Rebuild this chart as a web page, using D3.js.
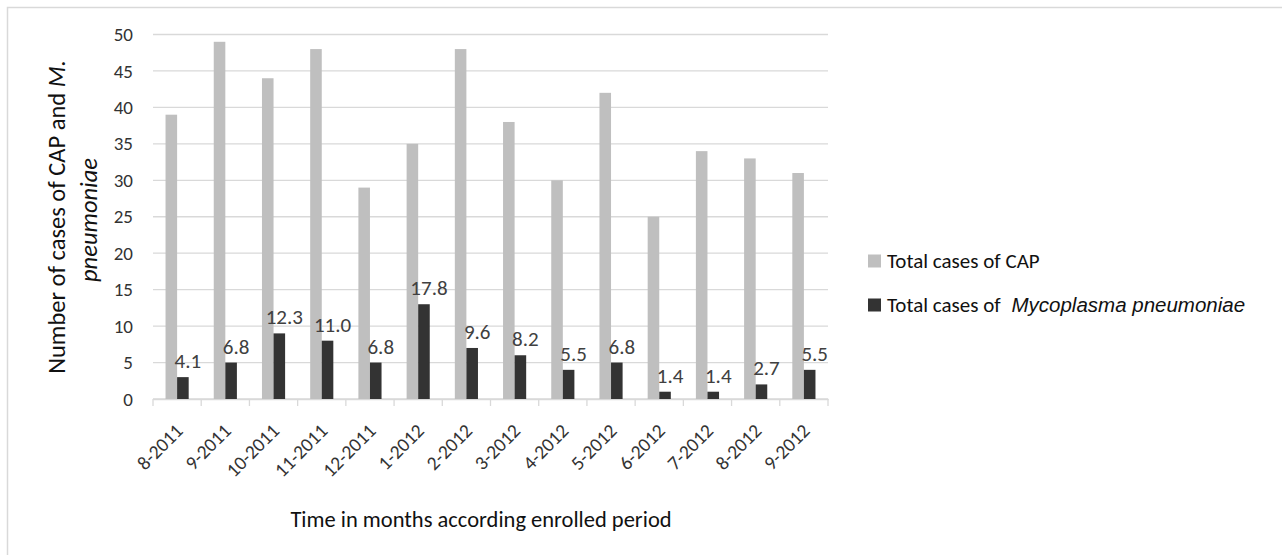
<!DOCTYPE html>
<html>
<head>
<meta charset="utf-8">
<script src="https://cdn.jsdelivr.net/npm/d3@7"></script>
<style>
  body { margin: 0; background: #fff; }
  text { font-family: Carlito, Calibri, Lato, sans-serif; }
</style>
</head>
<body>
<div id="chart"></div>
<script>
var months = ["8-2011", "9-2011", "10-2011", "11-2011", "12-2011", "1-2012", "2-2012",
  "3-2012", "4-2012", "5-2012", "6-2012", "7-2012", "8-2012", "9-2012"];
var capCases = [39, 49, 44, 48, 29, 35, 48, 38, 30, 42, 25, 34, 33, 31];
var mpCases = [3, 5, 9, 8, 5, 13, 7, 6, 4, 5, 1, 1, 2, 4];
var mpPercent = ["4.1", "6.8", "12.3", "11.0", "6.8", "17.8", "9.6", "8.2", "5.5", "6.8", "1.4", "1.4", "2.7", "5.5"];
var yTicks = [0, 5, 10, 15, 20, 25, 30, 35, 40, 45, 50];

var svgWidth = 1282;
var svgHeight = 555;

var svg = d3.select("#chart")
  .append("svg")
    .attr("width", svgWidth)
    .attr("height", svgHeight);

// frame of the chart area (only top and left edges show)
svg.append("rect")
  .attr("x", 7.5)
  .attr("y", 7.5)
  .attr("width", 1400)
  .attr("height", 700)
  .attr("fill", "none")
  .attr("stroke", "#d9d9d9")
  .attr("stroke-width", 1.5);

var x = d3.scaleBand()
  .domain(months)
  .range([153, 828]);

var y = d3.scaleLinear()
  .domain([0, 50])
  .range([399, 34.5]);

var barW = x.bandwidth() * 0.24;

// gridlines
svg.append("g")
  .selectAll("line")
  .data(yTicks)
  .enter()
  .append("line")
    .attr("x1", 153)
    .attr("x2", 828)
    .attr("y1", d => y(d))
    .attr("y2", d => y(d))
    .attr("stroke", "#d9d9d9")
    .attr("stroke-width", 1.3);

// category axis with ticks between categories
var bottomAxis = d3.axisBottom(x).tickSize(0).tickFormat("");
svg.append("g")
  .attr("transform", "translate(0, 399)")
  .call(bottomAxis)
  .call(g => g.select(".domain").attr("stroke", "#d9d9d9").attr("stroke-width", 1.3));

svg.append("g")
  .selectAll("line")
  .data(months.concat(["end"]))
  .enter()
  .append("line")
    .attr("x1", (d, i) => i < months.length ? x(d) : x(months[months.length - 1]) + x.bandwidth())
    .attr("x2", (d, i) => i < months.length ? x(d) : x(months[months.length - 1]) + x.bandwidth())
    .attr("y1", 399)
    .attr("y2", 406)
    .attr("stroke", "#d9d9d9")
    .attr("stroke-width", 1.3);

// y tick labels
var leftAxis = d3.axisLeft(y).tickValues(yTicks).tickSize(0).tickPadding(20);
svg.append("g")
  .attr("transform", "translate(153, 0)")
  .call(leftAxis)
  .call(g => g.select(".domain").remove())
  .call(g => g.selectAll("text")
    .attr("font-family", "Carlito, Calibri, Lato, sans-serif")
    .attr("font-size", "19px")
    .attr("fill", "#333"));

// bars
svg.append("g")
  .selectAll("rect")
  .data(capCases)
  .enter()
  .append("rect")
    .attr("x", (d, i) => x(months[i]) + x.bandwidth() / 2 - barW)
    .attr("y", d => y(d))
    .attr("width", barW)
    .attr("height", d => y(0) - y(d))
    .attr("fill", "#bfbfbf");

svg.append("g")
  .selectAll("rect")
  .data(mpCases)
  .enter()
  .append("rect")
    .attr("x", (d, i) => x(months[i]) + x.bandwidth() / 2)
    .attr("y", d => y(d))
    .attr("width", barW)
    .attr("height", d => y(0) - y(d))
    .attr("fill", "#333333");

// percent labels above the dark bars
svg.append("g")
  .selectAll("text")
  .data(mpCases)
  .enter()
  .append("text")
    .text((d, i) => mpPercent[i])
    .attr("x", (d, i) => x(months[i]) + x.bandwidth() / 2 + barW / 2 + 5)
    .attr("y", d => y(d) - 9)
    .attr("text-anchor", "middle")
    .attr("font-size", "21px")
    .attr("fill", "#404040");

// rotated month labels
svg.append("g")
  .selectAll("text")
  .data(months)
  .enter()
  .append("text")
    .text(d => d)
    .attr("transform", d => `translate(${x(d) + x.bandwidth() / 2 + 7}, 432) rotate(-45)`)
    .attr("text-anchor", "end")
    .attr("font-size", "19.5px")
    .attr("fill", "#333");

// axis titles
svg.append("text")
  .attr("x", 481)
  .attr("y", 527)
  .attr("text-anchor", "middle")
  .attr("font-size", "22.5px")
  .attr("fill", "#111")
  .text("Time in months according enrolled period");

var yTitle = svg.append("text")
  .attr("transform", "translate(65, 217) rotate(-90)")
  .attr("text-anchor", "middle")
  .attr("font-size", "24.5px")
  .attr("fill", "#111");
yTitle.append("tspan").text("Number of cases of CAP and ");
yTitle.append("tspan").attr("font-style", "italic").text("M.");

svg.append("text")
  .attr("transform", "translate(97, 220) rotate(-90)")
  .attr("text-anchor", "middle")
  .attr("font-size", "24.5px")
  .attr("font-style", "italic")
  .attr("fill", "#111")
  .text("pneumoniae");

// legend
var legendRows = [
  {color: "#bfbfbf", y: 261},
  {color: "#333333", y: 305}
];
var legend = svg.append("g");
legend.selectAll("rect")
  .data(legendRows)
  .enter()
  .append("rect")
    .attr("x", 868)
    .attr("y", d => d.y - 6.5)
    .attr("width", 13)
    .attr("height", 13)
    .attr("fill", d => d.color);

legend.append("text")
  .attr("x", 887)
  .attr("y", 268)
  .attr("font-size", "21px")
  .attr("fill", "#111")
  .text("Total cases of CAP");

var leg2 = legend.append("text")
  .attr("x", 887)
  .attr("y", 312)
  .attr("font-size", "21px")
  .attr("fill", "#111");
leg2.append("tspan").text("Total cases of ");
leg2.append("tspan")
  .attr("font-family", "Liberation Sans, Arial, sans-serif")
  .attr("font-style", "italic")
  .attr("font-size", "20.5px")
  .attr("dx", 6)
  .text("Mycoplasma pneumoniae");
</script>
</body>
</html>
